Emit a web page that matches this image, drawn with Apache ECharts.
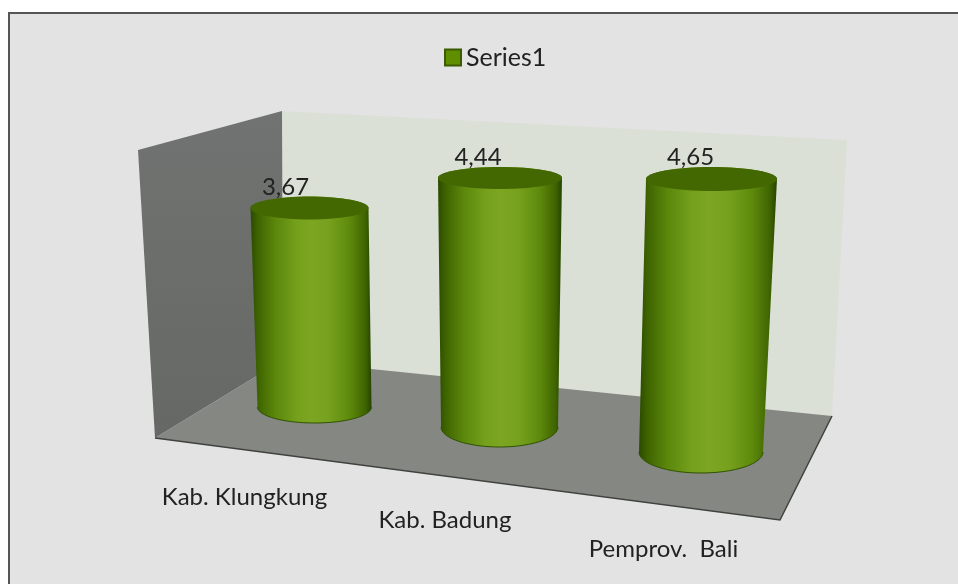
<!DOCTYPE html>
<html>
<head>
<meta charset="utf-8">
<style>html,body{margin:0;padding:0;background:#fff}#c{width:958px;height:584px}</style>
<script src="https://cdn.jsdelivr.net/npm/echarts@6/dist/echarts.min.js"></script>
</head>
<body>
<div id="c"></div>
<script>
const categories = ['Kab. Klungkung', 'Kab. Badung', 'Pemprov.  Bali'];
const values = [3.67, 4.44, 4.65];
const seriesName = 'Series1';

// Perspective of the 3D box: how each category is moved and scaled from the flat axes.
const depthScale = [1, 1.035, 1.083];
const depthX = [0, 0, 16.5];
const depthY = [0, 20, 45];
const leanX = [-5, 0.5, 10.5];
const baseRx = [57, 58.5, 62];
const baseRy = [16, 20, 21];
const topRx = [59, 62, 65.5];
const topRy = [11.5, 11, 12];
const valueLabelDx = [-24, -22, -21];
const valueLabelDy = [-21, -21, -22];
const catLabelDx = [-70, -54.5, -37.5];
const catLabelDy = [90, 93, 97];

const FONT = 'Lato, "Open Sans", sans-serif';
const textColor = '#222';

function arc(cx, cy, rx, ry, from, to) {
  const pts = [];
  for (let k = 0; k <= 48; k++) {
    const t = from + (to - from) * k / 48;
    pts.push([cx + rx * Math.cos(t), cy + ry * Math.sin(t)]);
  }
  return pts;
}

function renderCylinder(params, api) {
  const i = api.value(0);
  const v = api.value(1);
  const origin = api.coord([i, 0]);
  const h = api.size([0, v])[1] * depthScale[i];
  const bx = origin[0] + depthX[i];
  const by = origin[1] + depthY[i];
  const tx = bx + leanX[i];
  const ty = by - h;
  const body = arc(tx, ty, topRx[i], topRy[i], Math.PI, 2 * Math.PI)
    .concat(arc(bx, by, baseRx[i], baseRy[i], 0, Math.PI));
  const sideFill = new echarts.graphic.LinearGradient(0, 0, 1, 0, [
    { offset: 0, color: '#2b4b00' },
    { offset: 0.06, color: '#3e6300' },
    { offset: 0.2, color: '#5a860b' },
    { offset: 0.38, color: '#74a01c' },
    { offset: 0.5, color: '#7ca622' },
    { offset: 0.65, color: '#76a11e' },
    { offset: 0.82, color: '#5e8a0c' },
    { offset: 0.95, color: '#3e6300' },
    { offset: 1, color: '#264400' }
  ]);
  return {
    type: 'group',
    children: [
      { type: 'text', style: {
          text: api.value(1).toFixed(2).replace('.', ','),
          x: tx + valueLabelDx[i], y: ty + valueLabelDy[i],
          align: 'center', verticalAlign: 'middle',
          fill: textColor, font: '24px ' + FONT } },
      { type: 'polygon', shape: { points: body }, style: { fill: sideFill } },
      { type: 'polyline', shape: { points: arc(bx, by, baseRx[i], baseRy[i], 0, Math.PI) },
        style: { fill: null, stroke: '#2f5200', lineWidth: 1 } },
      { type: 'ellipse', shape: { cx: tx, cy: ty, rx: topRx[i], ry: topRy[i] }, style: { fill: '#436802' } },
      { type: 'text', style: {
          text: categories[i],
          x: bx + catLabelDx[i], y: by + catLabelDy[i],
          align: 'center', verticalAlign: 'middle',
          fill: textColor, font: '24px ' + FONT } }
    ]
  };
}

const chart = echarts.init(document.getElementById('c'), null, { renderer: 'canvas' });
chart.setOption({
  animation: false,
  backgroundColor: '#ffffff',
  graphic: { elements: [
    { type: 'rect', z: 0, shape: { x: 9, y: 13, width: 960, height: 590 },
      style: { fill: '#e3e3e3', stroke: '#555', lineWidth: 2 } },
    { type: 'polygon', z: 0, shape: { points: [[282, 111], [847, 140], [832, 416], [283, 360]] },
      style: { fill: '#dbe0d6' } },
    { type: 'polygon', z: 0, shape: { points: [[138, 150], [282, 111], [283, 360], [155, 438]] },
      style: { fill: new echarts.graphic.LinearGradient(0, 0, 0, 1, [
        { offset: 0, color: '#717372' }, { offset: 1, color: '#666865' }]) } },
    { type: 'polygon', z: 0, shape: { points: [[155, 438], [283, 360], [832, 416], [780, 520]] },
      style: { fill: '#858783' } },
    { type: 'polyline', z: 0, shape: { points: [[155, 438], [780, 520], [832, 416]] },
      style: { fill: null, stroke: '#40423e', lineWidth: 1.5 } }
  ] },
  legend: {
    show: true, data: [seriesName], left: 439, top: 40, icon: 'rect',
    itemWidth: 16, itemHeight: 16, itemGap: 2,
    textStyle: { fontFamily: FONT, fontSize: 25, color: textColor }
  },
  grid: { left: 222, width: 555, top: 136, height: 271 },
  xAxis: { type: 'category', data: categories, show: false },
  yAxis: { type: 'value', min: 0, max: 5, show: false },
  series: [{
    name: seriesName,
    type: 'custom',
    renderItem: renderCylinder,
    encode: { x: 0, y: 1 },
    clip: false,
    itemStyle: { color: '#5f8f00', borderColor: '#3c5a00', borderWidth: 1 },
    data: values.map((v, i) => [i, v])
  }]
});
</script>
</body>
</html>
